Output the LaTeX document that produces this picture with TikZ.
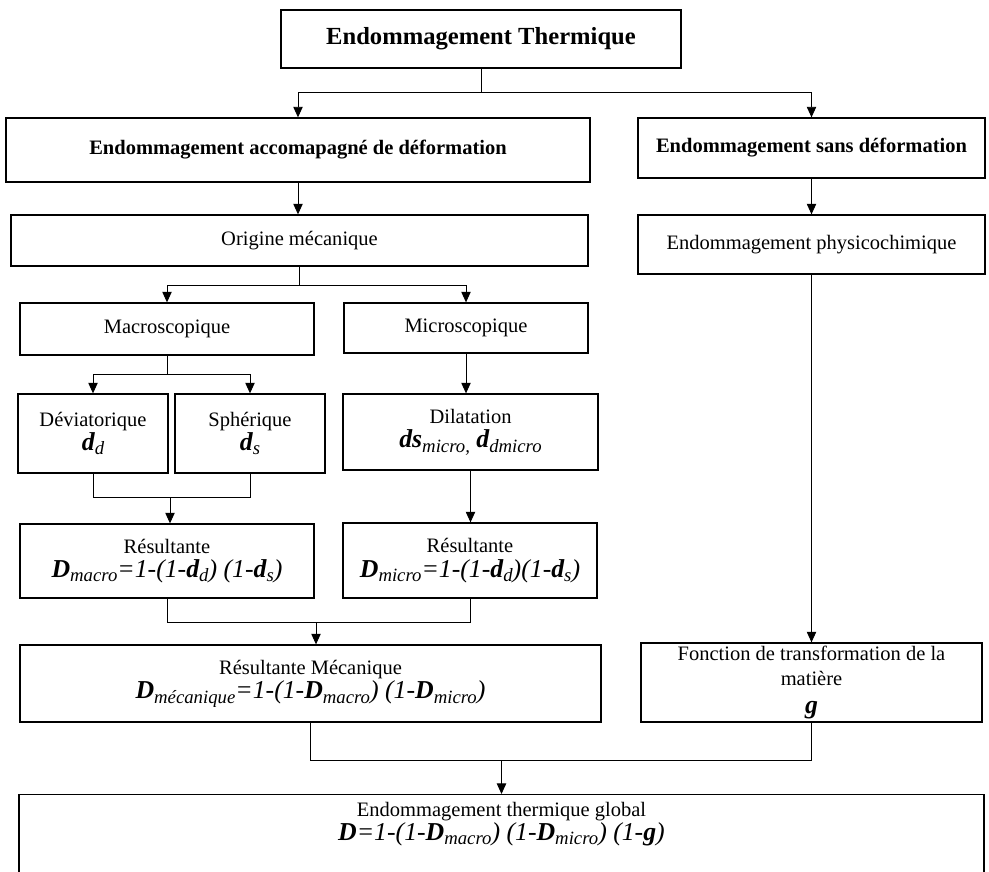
\documentclass[tikz,border=0pt]{standalone}
\usepackage{fontspec}
\setmainfont{Liberation Serif}
\usetikzlibrary{arrows.meta}

% bold italic letter with italic index
\newcommand{\bv}[2]{\textbf{\textit{#1}}\raisebox{-0.35ex}{\fontsize{16}{18}\selectfont\itshape #2}}
\newcommand{\fml}[1]{{\fontsize{22}{26}\selectfont\itshape #1}}

\begin{document}
\begin{tikzpicture}[x=0.03cm, y=-0.03cm,
  bx/.style n args={2}{draw, line width=1.1pt, minimum width=#1*0.03cm,
    minimum height=#2*0.03cm, align=center, inner sep=2pt,
    font=\fontsize{17.5}{21}\selectfont},
  arr/.style={-{Triangle[length=9pt,width=8pt]}, line width=0.8pt},
  lnk/.style={line width=0.8pt}]
  \useasboundingbox (0,0) rectangle (989,871);

  % Top
  \node[bx={400}{58}, font=\fontsize{21}{25}\selectfont\bfseries] (top) at (481,39) {Endommagement Thermique};
  \node[bx={584}{64}, font=\fontsize{17.5}{21}\selectfont\bfseries] (deform) at (298,150) {Endommagement accomapagn\'e de d\'eformation};
  \node[bx={347}{60}, font=\fontsize{17.5}{21}\selectfont\bfseries] (sansdef) at (811.5,148) {Endommagement sans d\'eformation};

  % Left branch
  \node[bx={577}{51}] (origine) at (299.5,240.5) {Origine m\'ecanique};
  \node[bx={294}{52}] (macro) at (167,329) {Macroscopique};
  \node[bx={244}{50}] (micro) at (466,328) {Microscopique};
  \node[bx={150}{79}] (devia) at (93,433.5) {D\'eviatorique\\\fml{\bv{d}{d}}};
  \node[bx={150}{79}] (spher) at (250,433.5) {Sph\'erique\\\fml{\bv{d}{s}}};
  \node[bx={255}{76}] (dilat) at (470.5,432) {Dilatation\\\fml{\bv{ds}{micro,} \bv{d}{dmicro}}};
  \node[bx={294}{74}] (resL) at (167,561) {R\'esultante\\\fml{\bv{D}{macro}=1-(1-\bv{d}{d}) (1-\bv{d}{s})}};
  \node[bx={254}{75}] (resR) at (470,560.5) {R\'esultante\\\fml{\bv{D}{micro}=1-(1-\bv{d}{d})(1-\bv{d}{s})}};
  \node[bx={581}{77}] (meca) at (310.5,683.5) {R\'esultante M\'ecanique\\\fml{\bv{D}{m\'ecanique}=1-(1-\bv{D}{macro}) (1-\bv{D}{micro})}};

  % Right branch
  \node[bx={347}{59}] (physico) at (811.5,244.5) {Endommagement physicochimique};
  \node[bx={341}{79}] (fonction) at (811.5,682.5) {Fonction de transformation de la\\mati\`ere\\[3pt]\fml{\bv{g}{}}};

  % Global (cut by the page)
  \node[bx={965}{130}, anchor=north] (global) at (501.5,794) {};
  \node[font=\fontsize{17.5}{21}\selectfont, align=center] (globtxt) at (501.5,824) {Endommagement thermique global\\\fml{\bv{D}{}=1-(1-\bv{D}{macro}) (1-\bv{D}{micro}) (1-\textbf{g})}};

  % Junctions
  \coordinate (j1) at (481,92);
  \coordinate (j2) at (299.5,285);
  \coordinate (j3) at (167,374);
  \coordinate (j4) at (170,497);
  \coordinate (j5) at (316,622);
  \coordinate (j6) at (501.5,760);

  % Connectors
  \draw[lnk] (top.south) -- (j1);
  \draw[arr] (j1) -| (deform.north);
  \draw[arr] (j1) -| (sansdef.north);
  \draw[arr] (deform.south) -- (deform.south |- origine.north);
  \draw[arr] (sansdef.south) -- (physico.north);
  \draw[lnk] (origine.south) -- (j2);
  \draw[arr] (j2) -| (macro.north);
  \draw[arr] (j2) -| (micro.north);
  \draw[lnk] (macro.south) -- (j3);
  \draw[arr] (j3) -| (devia.north);
  \draw[arr] (j3) -| (spher.north);
  \draw[arr] (micro.south) -- (micro.south |- dilat.north);
  \draw[lnk] (devia.south) -- (devia.south |- j4) -- (spher.south |- j4) -- (spher.south);
  \draw[arr] (j4) -- (j4 |- resL.north);
  \draw[arr] (dilat.south) -- (dilat.south |- resR.north);
  \draw[lnk] (resL.south) -- (resL.south |- j5) -- (resR.south |- j5) -- (resR.south);
  \draw[arr] (j5) -- (j5 |- meca.north);
  \draw[arr] (physico.south) -- (fonction.north);
  \draw[lnk] (meca.south) -- (meca.south |- j6) -- (fonction.south |- j6) -- (fonction.south);
  \draw[arr] (j6) -- (global.north);
\end{tikzpicture}
\end{document}
